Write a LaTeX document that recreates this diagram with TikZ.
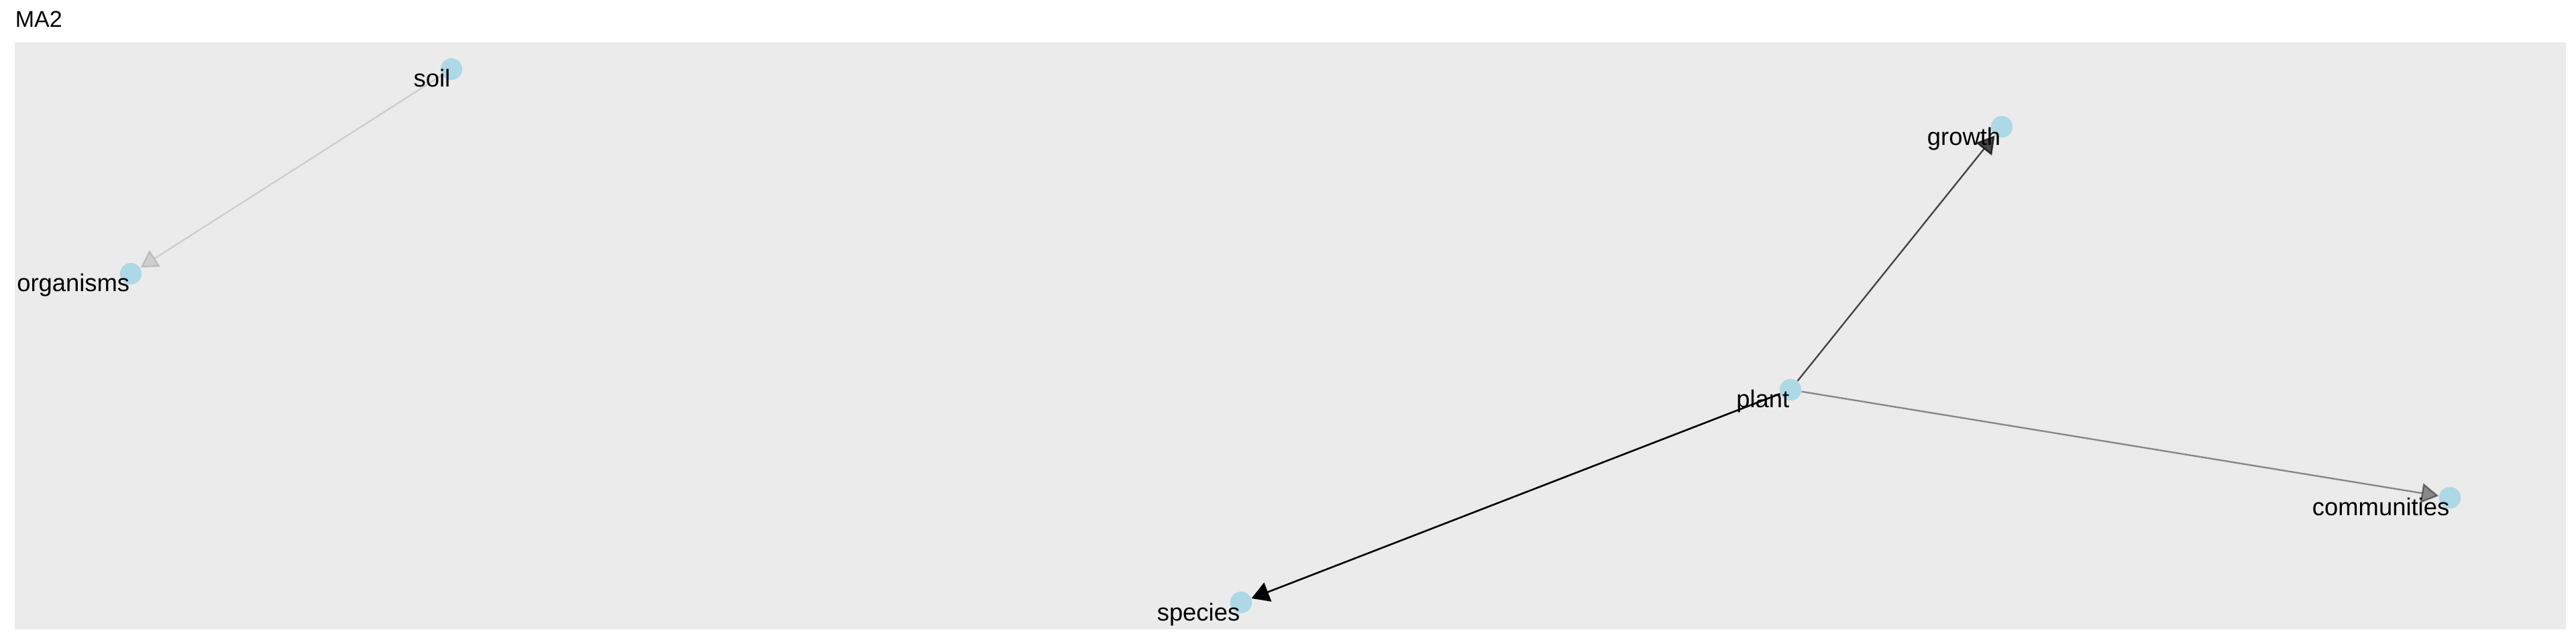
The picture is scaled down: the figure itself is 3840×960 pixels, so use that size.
\documentclass[tikz,border=0pt]{standalone}
\usepackage{fontspec}
\setmainfont{Liberation Sans}
\usetikzlibrary{arrows.meta}
\definecolor{panelgrey}{HTML}{EBEBEB}
\definecolor{vtxblue}{HTML}{ADD8E6}
\tikzset{
  vtx/.style={circle, fill=vtxblue, draw=none, minimum size=8pt, inner sep=0pt},
  lbl/.style={anchor=base east, inner sep=0pt, font=\fontsize{9.1pt}{10pt}\selectfont, text=black},
  edge/.style={draw=black, line width=0.6pt, -{Triangle[length=6.5pt,width=7.5pt]}},
}
\begin{document}
\begin{tikzpicture}[x=0.25pt, y=-0.25pt]
\useasboundingbox (0,0) rectangle (3840,960);
\fill[white] (0,0) rectangle (3840,960);
\fill[panelgrey] (22,63) rectangle (3825,938);
\node[anchor=base west, inner sep=0pt, font=\fontsize{8.5pt}{10pt}\selectfont] (title) at (22,41) {MA2};
% vertices
\node[vtx] (soil) at (673,103) {};
\node[vtx] (organisms) at (195,408) {};
\node[vtx] (growth) at (2984,189) {};
\node[vtx] (plant) at (2669,581) {};
\node[vtx] (communities) at (3652,742) {};
\node[vtx] (species) at (1850,898) {};
% edges
\begin{scope}[on background layer/.style={}]
\draw[edge, opacity=0.12] (soil) -- (organisms);
\draw[edge, opacity=0.7] (plant) -- (growth);
\draw[edge, opacity=0.42] (plant) -- (communities);
\draw[edge, line width=0.65pt] (plant) -- (species);
\end{scope}
% redraw vertices on top
\node[vtx] at (soil) {};
\node[vtx] at (organisms) {};
\node[vtx] at (growth) {};
\node[vtx] at (plant) {};
\node[vtx] at (communities) {};
\node[vtx] at (species) {};
% labels
\node[lbl] (soilL) at (672,130) {soil};
\node[lbl] (organismsL) at (194,435) {organisms};
\node[lbl] (growthL) at (2983,217) {growth};
\node[lbl] (plantL) at (2668,608) {plant};
\node[lbl] (communitiesL) at (3652,769) {communities};
\node[lbl] (speciesL) at (1849,925) {species};
\end{tikzpicture}
\end{document}
